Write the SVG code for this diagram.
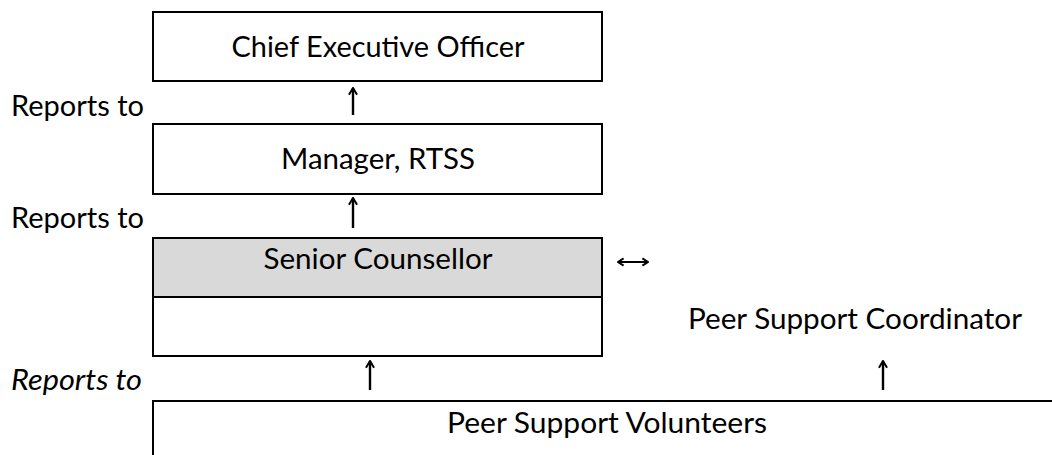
<svg xmlns="http://www.w3.org/2000/svg" width="1052" height="455" viewBox="0 0 1052 455">
<defs>
<style>
.box{fill:#fff;stroke:#000;stroke-width:2}
.grey{fill:#d9d9d9;stroke:#000;stroke-width:2}
.t{font-family:Lato,"Open Sans","Liberation Sans",Arial,sans-serif;font-size:29px;fill:#000}
.c{text-anchor:middle}
.i{font-style:italic}
.ln{stroke:#000;stroke-width:2;fill:none}
.ar{stroke:#000;stroke-width:2.4;fill:none;marker-end:url(#chev)}
.dbl{stroke:#000;stroke-width:2;fill:none;marker-end:url(#chev2);marker-start:url(#chev2s)}
</style>
<marker id="chev" viewBox="0 0 10 10" refX="9" refY="5" markerWidth="9" markerHeight="15" orient="auto" markerUnits="userSpaceOnUse">
<path d="M1.5,0.5 L9,5 L1.5,9.5" fill="none" stroke="#000" stroke-width="2.2"/>
</marker>
<marker id="chev2" viewBox="0 0 10 10" refX="9" refY="5" markerWidth="8" markerHeight="12" orient="auto" markerUnits="userSpaceOnUse">
<path d="M2,0.5 L9,5 L2,9.5" fill="none" stroke="#000" stroke-width="2.4"/>
</marker>
<marker id="chev2s" viewBox="0 0 10 10" refX="1" refY="5" markerWidth="8" markerHeight="12" orient="auto" markerUnits="userSpaceOnUse">
<path d="M8,0.5 L1,5 L8,9.5" fill="none" stroke="#000" stroke-width="2.4"/>
</marker>
</defs>
<g id="ceo">
<rect class="box" x="153" y="12" width="449" height="69"/>
<text class="t c" x="378" y="57" textLength="293" lengthAdjust="spacingAndGlyphs">Chief Executive Officer</text>
</g>
<g id="manager">
<rect class="box" x="153" y="124" width="449" height="70"/>
<text class="t c" x="378" y="169" textLength="194" lengthAdjust="spacingAndGlyphs">Manager, RTSS</text>
</g>
<g id="senior">
<rect class="grey" x="153" y="238" width="449" height="59"/>
<rect class="box" x="153" y="297" width="449" height="59"/>
<text class="t c" x="378" y="269" textLength="229" lengthAdjust="spacingAndGlyphs">Senior Counsellor</text>
</g>
<g id="coordinator">
<text class="t" x="688" y="329" textLength="334" lengthAdjust="spacingAndGlyphs">Peer Support Coordinator</text>
</g>
<g id="volunteers">
<path class="ln" d="M153,455 V401 H1052"/>
<text class="t c" x="607" y="433" textLength="320" lengthAdjust="spacingAndGlyphs">Peer Support Volunteers</text>
</g>
<g id="labels">
<text class="t" x="11" y="116" textLength="133" lengthAdjust="spacingAndGlyphs">Reports to</text>
<text class="t" x="11" y="228" textLength="133" lengthAdjust="spacingAndGlyphs">Reports to</text>
<text class="t i" x="11" y="390" textLength="131" lengthAdjust="spacingAndGlyphs">Reports to</text>
</g>
<g id="connectors">
<line class="ar" x1="353" y1="115" x2="353" y2="88"/>
<line class="ar" x1="353" y1="228" x2="353" y2="198"/>
<line class="ar" x1="370" y1="390" x2="370" y2="361"/>
<line class="ar" x1="883" y1="390" x2="883" y2="361"/>
<line class="dbl" x1="618" y1="262" x2="648" y2="262"/>
</g>
</svg>
